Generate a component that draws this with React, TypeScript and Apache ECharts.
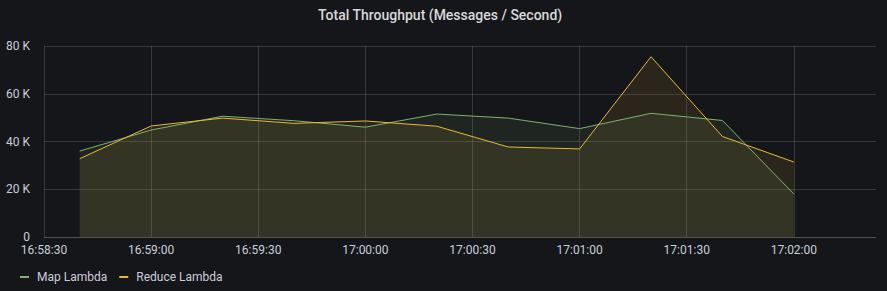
import React, { useEffect, useRef } from "react";
import * as echarts from "echarts";

const times = ["16:58:40", "16:59:00", "16:59:20", "16:59:40", "17:00:00", "17:00:20", "17:00:40", "17:01:00", "17:01:20", "17:01:40", "17:02:00"];
const mapLambda = [36000, 44800, 50600, 48700, 46000, 51500, 49800, 45400, 51800, 48800, 18000];
const reduceLambda = [32800, 46500, 49800, 47600, 48600, 46400, 37700, 36900, 75500, 42100, 31400];
const xStart = "16:58:30";
const xEnd = "17:02:23";
const yTicks = [0, 20000, 40000, 60000, 80000];

const toSec = (t: string) => {
  const [h, m, s] = t.split(":").map(Number);
  return h * 3600 + m * 60 + s;
};
const pad = (n: number) => String(n).padStart(2, "0");
const fmt = (v: number) => {
  const h = Math.floor(v / 3600);
  const m = Math.floor((v % 3600) / 60);
  const s = Math.round(v % 60);
  return `${pad(h)}:${pad(m)}:${pad(s)}`;
};

export default function App() {
  const ref = useRef<HTMLDivElement>(null);
  useEffect(() => {
    if (!ref.current) return;
    const chart = echarts.init(ref.current, undefined, { renderer: "svg" });
    const gridColor = "rgba(204,204,220,0.18)";
    const font = "Roboto, 'Noto Sans', sans-serif";
    chart.setOption({
      animation: false,
      backgroundColor: "#151619",
      textStyle: { fontFamily: font },
      title: {
        text: "Total Throughput (Messages / Second)",
        left: 313,
        top: 3,
        textStyle: { color: "#d8d9da", fontSize: 14, fontWeight: 500, fontFamily: font },
      },
      legend: {
        left: 15,
        bottom: 3,
        icon: "rect",
        itemWidth: 9,
        itemHeight: 2,
        itemGap: 12,
        textStyle: { color: "#ccccdc", fontSize: 12, fontFamily: font, padding: [0, 0, 0, 3] },
        data: ["Map Lambda", "Reduce Lambda"],
      },
      grid: { left: 44, right: 11, top: 46, bottom: 54, containLabel: false },
      xAxis: {
        type: "value",
        min: toSec(xStart),
        max: toSec(xEnd),
        interval: 30,
        axisLine: { show: true, lineStyle: { color: gridColor } },
        axisTick: { show: false },
        axisLabel: {
          color: "#c7d0d9",
          fontSize: 12,
          margin: 7,
          showMaxLabel: false,
          formatter: (v: number) => fmt(v),
        },
        splitLine: { show: true, showMaxLine: false, lineStyle: { color: gridColor } },
      },
      yAxis: {
        type: "value",
        min: yTicks[0],
        max: yTicks[yTicks.length - 1],
        interval: yTicks[1] - yTicks[0],
        axisLine: { show: false },
        axisTick: { show: false },
        axisLabel: {
          color: "#c7d0d9",
          fontSize: 12,
          margin: 14,
          formatter: (v: number) => (v === 0 ? "0" : `${v / 1000} K`),
        },
        splitLine: { show: true, lineStyle: { color: gridColor } },
      },
      series: [
        {
          name: "Map Lambda",
          type: "line",
          data: times.map((t, i) => [toSec(t), mapLambda[i]]),
          symbol: "none",
          color: "#7EB26D",
          lineStyle: { width: 1, color: "#7EB26D" },
          areaStyle: { color: "#7EB26D", opacity: 0.1 },
        },
        {
          name: "Reduce Lambda",
          type: "line",
          data: times.map((t, i) => [toSec(t), reduceLambda[i]]),
          symbol: "none",
          color: "#EAB839",
          lineStyle: { width: 1, color: "#EAB839" },
          areaStyle: { color: "#EAB839", opacity: 0.1 },
        },
      ],
    });
    return () => chart.dispose();
  }, []);
  return <div ref={ref} style={{ position: "fixed", left: 0, top: 0, width: 887, height: 291 }} />;
}
